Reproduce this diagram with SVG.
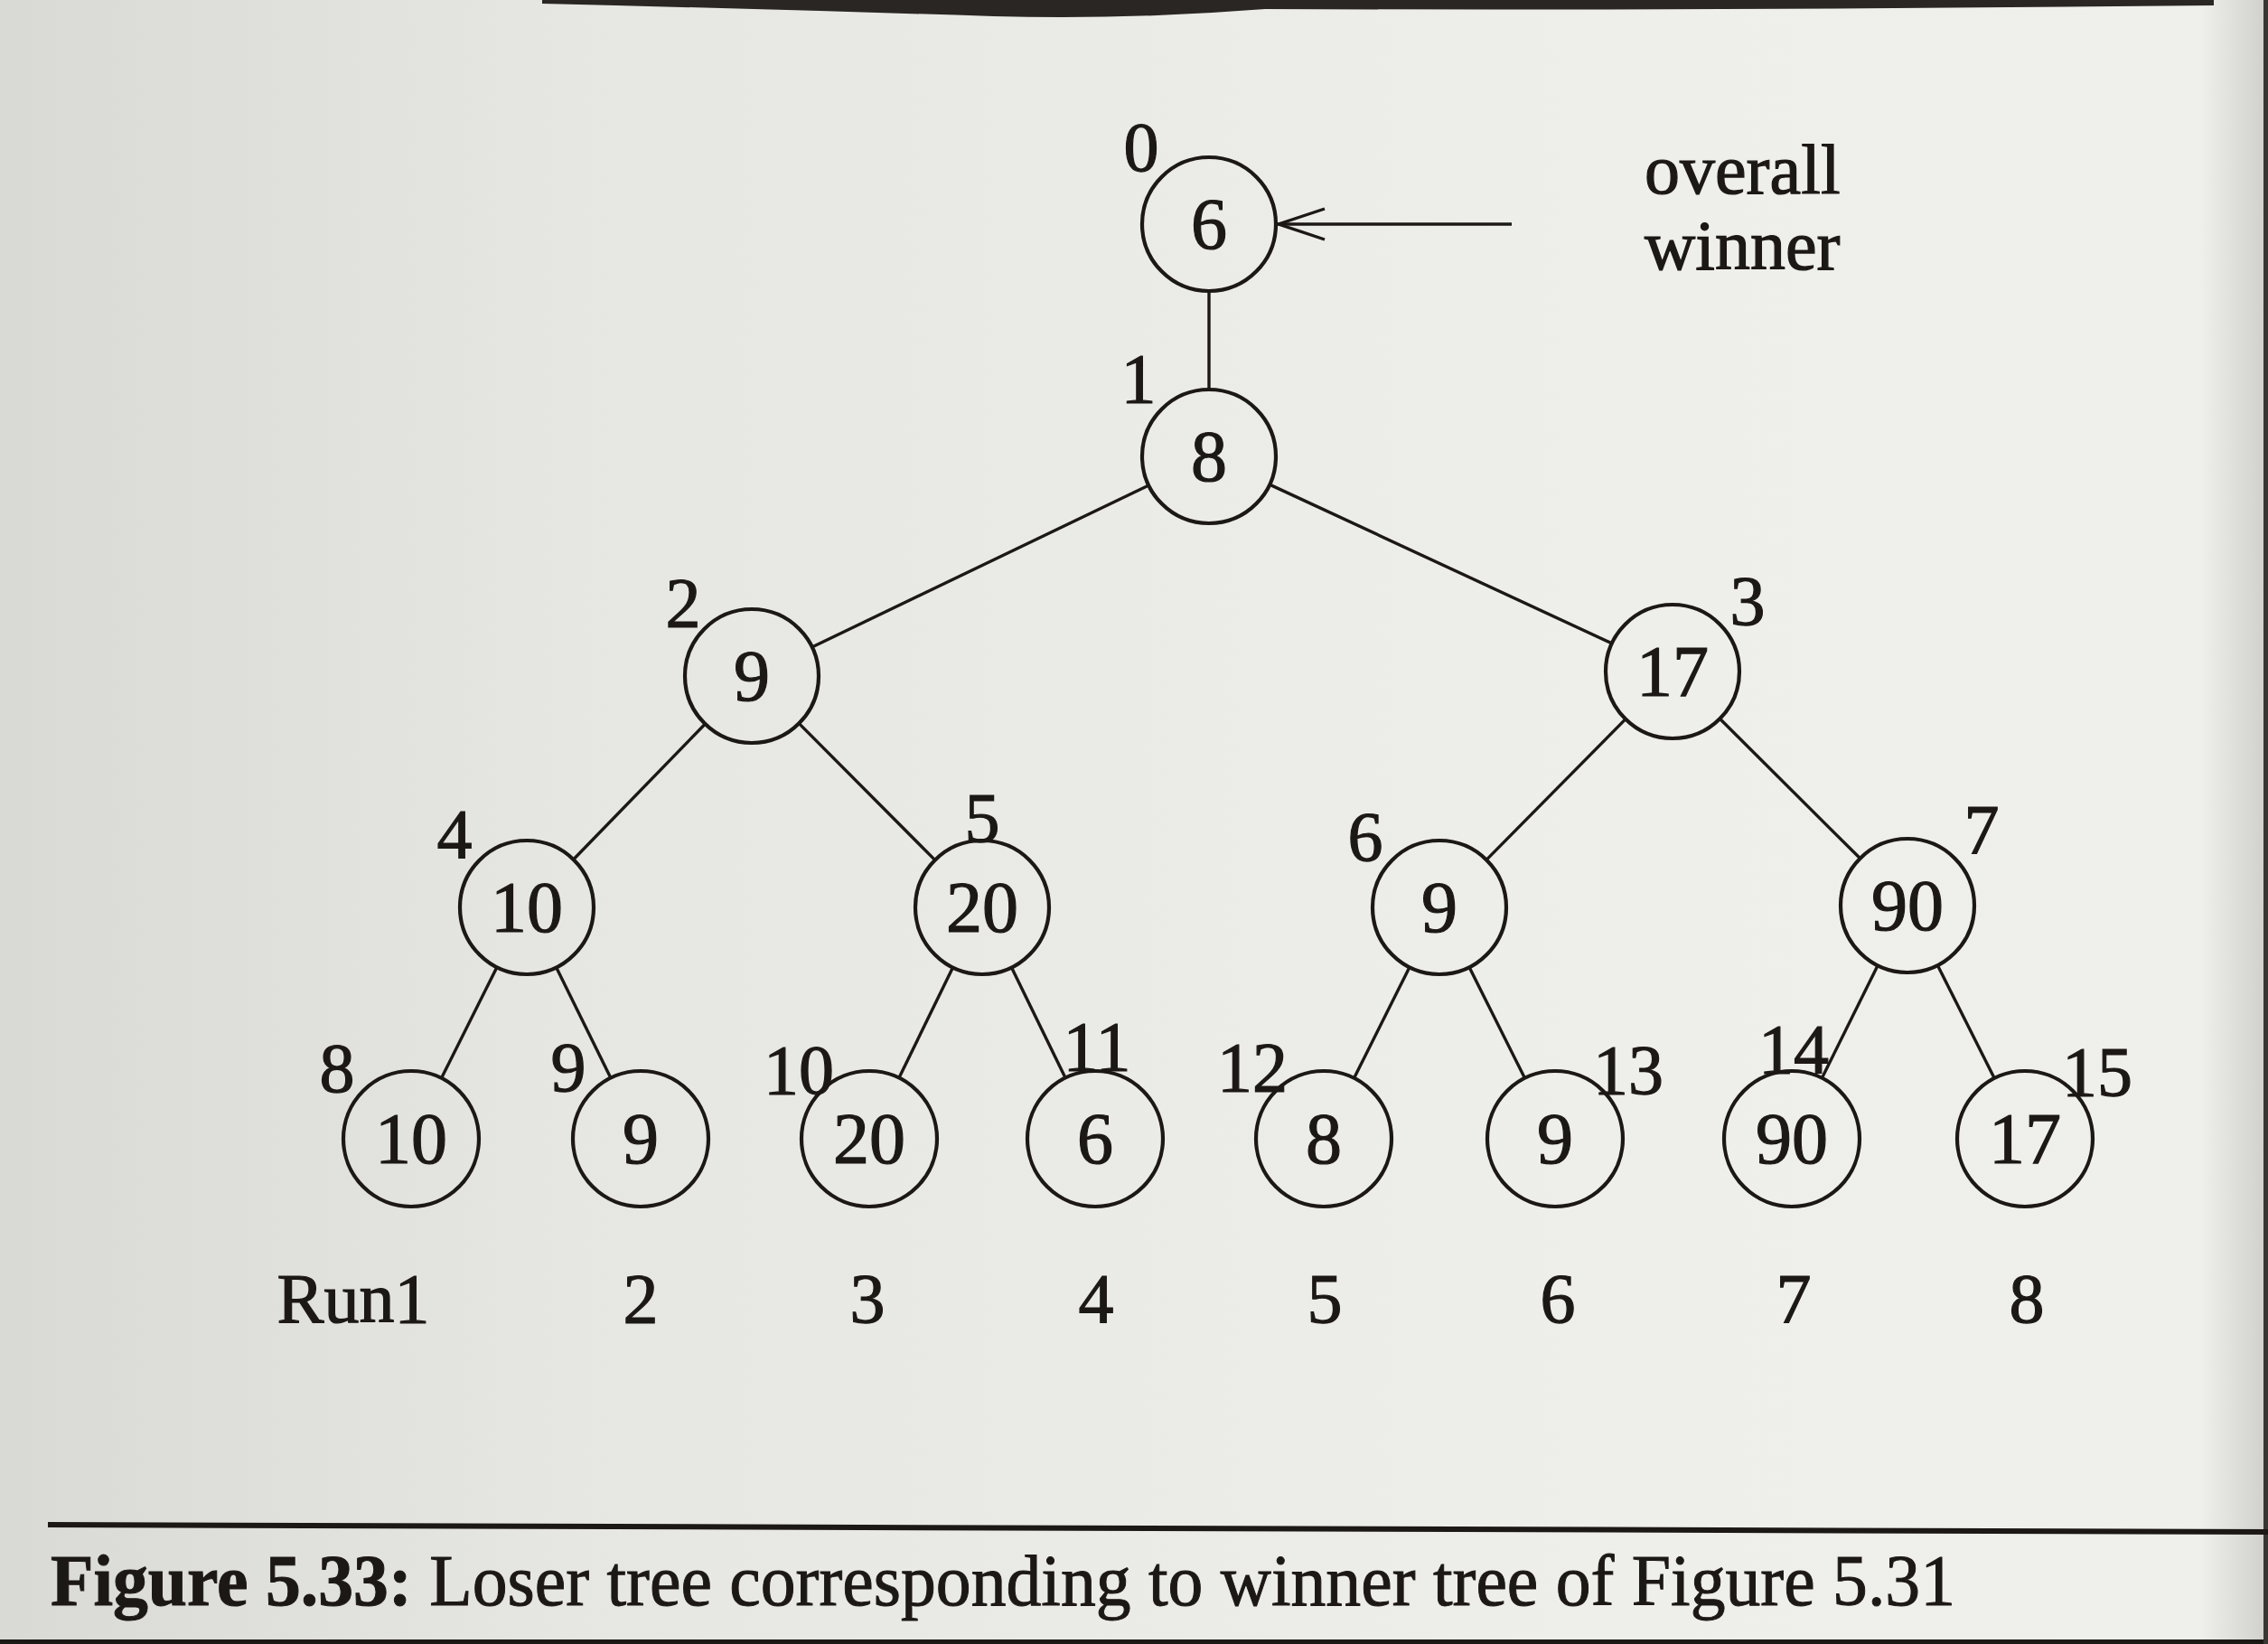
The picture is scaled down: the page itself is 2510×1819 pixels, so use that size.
<svg xmlns="http://www.w3.org/2000/svg" width="2510" height="1819" viewBox="0 0 2510 1819">
<defs>
<linearGradient id="bg" x1="0" y1="0" x2="1" y2="0">
<stop offset="0" stop-color="#d9d9d6"/>
<stop offset="0.25" stop-color="#e6e6e3"/>
<stop offset="0.7" stop-color="#eeeeeb"/>
<stop offset="0.97" stop-color="#efefec"/>
<stop offset="1" stop-color="#cfcfcc"/>
</linearGradient>
<style>
.n circle{fill:none;stroke:#1c1816;stroke-width:4.2}
.n text{font-family:"Liberation Serif","Times New Roman",serif;font-size:80px;fill:#1c1816;stroke:#1c1816;stroke-width:1.2;text-anchor:middle}
.lab{font-family:"Liberation Serif","Times New Roman",serif;font-size:78px;fill:#1c1816;stroke:#1c1816;stroke-width:1.2;text-anchor:middle}
.edges line,.edges polyline{stroke:#1c1816;stroke-width:3.4;fill:none}
</style>
</defs>
<rect x="0" y="0" width="2510" height="1819" fill="url(#bg)"/>
<path d="M600 0 L2450 0 L2450 6 Q1900 12 1400 10 Q1250 22 1100 18 Q850 10 600 4 Z" fill="#2a2624"/>
<rect x="0" y="1814" width="2510" height="5" fill="#1c1816"/>
<rect x="2505" y="0" width="5" height="1819" fill="#3a3634"/>

<g class="edges" id="connectors">
<line x1="1338" y1="322" x2="1338" y2="431"/>
<line x1="1271.3" y1="537" x2="898.7" y2="716"/>
<line x1="1405.1" y1="536.1" x2="1783.9" y2="711.9"/>
<line x1="780.4" y1="801" x2="634.6" y2="951"/>
<line x1="884.2" y1="800.4" x2="1034.8" y2="951.6"/>
<line x1="1799" y1="795.6" x2="1645" y2="951.4"/>
<line x1="1903.4" y1="795.2" x2="2058.6" y2="949.8"/>
<line x1="549.9" y1="1070.2" x2="488.1" y2="1193.8"/>
<line x1="615.7" y1="1070.4" x2="676.3" y2="1193.6"/>
<line x1="1054.5" y1="1070.5" x2="994.5" y2="1193.5"/>
<line x1="1119.5" y1="1070.5" x2="1179.5" y2="1193.5"/>
<line x1="1559.9" y1="1070.2" x2="1498.1" y2="1193.8"/>
<line x1="1626.1" y1="1070.2" x2="1687.9" y2="1193.8"/>
<line x1="2078.1" y1="1068.3" x2="2015.9" y2="1193.7"/>
<line x1="2144.3" y1="1068.1" x2="2207.7" y2="1193.9"/>
<line x1="1673" y1="248" x2="1414" y2="248"/>
<polyline points="1466,231 1415,248 1466,265"/>
</g>

<g class="n" id="node0"><circle cx="1338" cy="248" r="74"/><text x="1338" y="275">6</text></g>
<g class="n" id="node1"><circle cx="1338" cy="505" r="74"/><text x="1338" y="532">8</text></g>
<g class="n" id="node2"><circle cx="832" cy="748" r="74"/><text x="832" y="775">9</text></g>
<g class="n" id="node3"><circle cx="1851" cy="743" r="74"/><text x="1851" y="770">17</text></g>
<g class="n" id="node4"><circle cx="583" cy="1004" r="74"/><text x="583" y="1031">10</text></g>
<g class="n" id="node5"><circle cx="1087" cy="1004" r="74"/><text x="1087" y="1031">20</text></g>
<g class="n" id="node6"><circle cx="1593" cy="1004" r="74"/><text x="1593" y="1031">9</text></g>
<g class="n" id="node7"><circle cx="2111" cy="1002" r="74"/><text x="2111" y="1029">90</text></g>
<g class="n" id="node8"><circle cx="455" cy="1260" r="75"/><text x="455" y="1287">10</text></g>
<g class="n" id="node9"><circle cx="709" cy="1260" r="75"/><text x="709" y="1287">9</text></g>
<g class="n" id="node10"><circle cx="962" cy="1260" r="75"/><text x="962" y="1287">20</text></g>
<g class="n" id="node11"><circle cx="1212" cy="1260" r="75"/><text x="1212" y="1287">6</text></g>
<g class="n" id="node12"><circle cx="1465" cy="1260" r="75"/><text x="1465" y="1287">8</text></g>
<g class="n" id="node13"><circle cx="1721" cy="1260" r="75"/><text x="1721" y="1287">9</text></g>
<g class="n" id="node14"><circle cx="1983" cy="1260" r="75"/><text x="1983" y="1287">90</text></g>
<g class="n" id="node15"><circle cx="2241" cy="1260" r="75"/><text x="2241" y="1287">17</text></g>

<g id="indices" class="lab">
<text x="1263" y="189">0</text>
<text x="1260" y="445">1</text>
<text x="756" y="693">2</text>
<text x="1934" y="691">3</text>
<text x="503" y="949">4</text>
<text x="1087" y="931">5</text>
<text x="1511" y="952">6</text>
<text x="2193" y="944">7</text>
<text x="373" y="1208">8</text>
<text x="629" y="1207">9</text>
<text x="884" y="1210">10</text>
<text x="1214" y="1184">11</text>
<text x="1386" y="1207">12</text>
<text x="1802" y="1210">13</text>
<text x="1985" y="1187">14</text>
<text x="2321" y="1212">15</text>
</g>

<g id="winner-label" class="lab" style="text-anchor:start">
<text x="1820" y="214">overall</text>
<text x="1820" y="298">winner</text>
</g>

<g id="runs" class="lab">
<text x="391" y="1463">Run1</text>
<text x="709" y="1463">2</text>
<text x="960" y="1463">3</text>
<text x="1213" y="1463">4</text>
<text x="1466" y="1463">5</text>
<text x="1724" y="1463">6</text>
<text x="1985" y="1463">7</text>
<text x="2243" y="1463">8</text>
</g>

<path d="M53 1684 L2510 1692 L2510 1698 L53 1690 Z" fill="#1c1816"/>
<text x="56" y="1776" textLength="2108" lengthAdjust="spacingAndGlyphs" style="font-family:'Liberation Serif','Times New Roman',serif;font-size:80px;fill:#1c1816;stroke:#1c1816;stroke-width:1"><tspan font-weight="bold">Figure 5.33:</tspan> Loser tree corresponding to winner tree of Figure 5.31</text>
</svg>
